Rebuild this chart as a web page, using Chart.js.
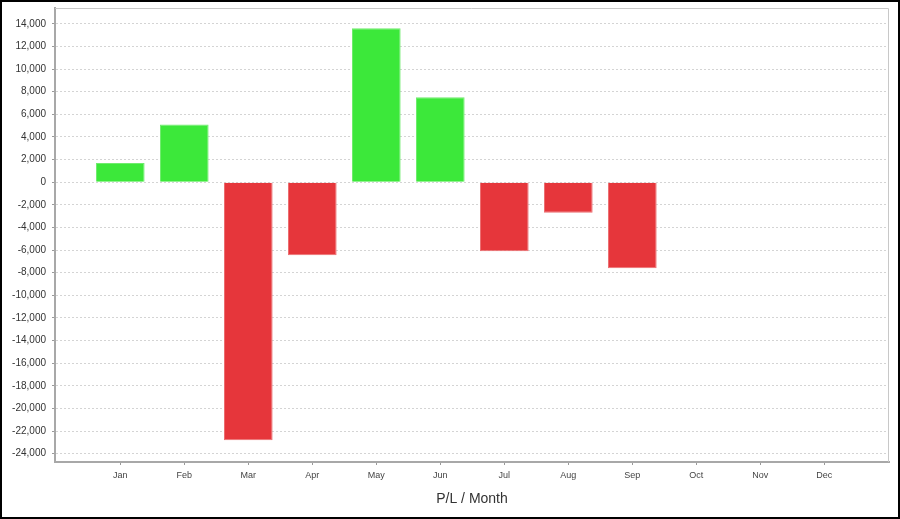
<!DOCTYPE html>
<html>
<head>
    <title>P/L / Month</title>
    <script src="https://cdn.jsdelivr.net/npm/chart.js@4.4.0/dist/chart.umd.min.js"></script>
    <style>
        body { margin: 0; background: #fff; }
        .frame { width: 900px; height: 519px; border: 2px solid #000; box-sizing: border-box; }
        canvas { display: block; }
    </style>
</head>
<body>
    <div class="frame">
        <canvas id="plChart" width="896" height="515"></canvas>
    </div>

    <script>
        // monthly profit / loss
        const months = ['Jan', 'Feb', 'Mar', 'Apr', 'May', 'Jun', 'Jul', 'Aug', 'Sep', 'Oct', 'Nov', 'Dec'];
        const pl = [1700, 5100, -22800, -6450, 13600, 7500, -6100, -2700, -7600, null, null, null];
        const yTicks = [14000, 12000, 10000, 8000, 6000, 4000, 2000, 0, -2000, -4000, -6000, -8000,
                        -10000, -12000, -14000, -16000, -18000, -20000, -22000, -24000];

        const green = '#3ce83a';
        const red = '#e6363b';
        const font = "'Liberation Sans', Arial, sans-serif";

        // light frame on top/right of the plot
        const plotFrame = {
            id: 'plotFrame',
            afterDraw(chart) {
                const a = chart.chartArea;
                const ctx = chart.ctx;
                ctx.save();
                ctx.strokeStyle = '#c8c8c8';
                ctx.lineWidth = 1;
                ctx.beginPath();
                ctx.moveTo(a.left, a.top + 0.5);
                ctx.lineTo(a.right - 0.5, a.top + 0.5);
                ctx.lineTo(a.right - 0.5, a.bottom);
                ctx.stroke();
                ctx.restore();
            }
        };

        new Chart(document.getElementById('plChart'), {
            type: 'bar',
            data: {
                datasets: [{
                    data: months.map((m, i) => ({ x: i, y: pl[i] })),
                    backgroundColor: pl.map(v => v >= 0 ? green : red),
                    borderColor: pl.map(v => v >= 0 ? '#6fec6d' : '#ec6f72'),
                    borderWidth: 1,
                    borderSkipped: 'start',
                    categoryPercentage: 0.76,
                    barPercentage: 1
                }]
            },
            options: {
                responsive: false,
                animation: false,
                layout: { padding: { top: 6, right: 9, left: 0, bottom: 0 } },
                plugins: {
                    legend: { display: false },
                    tooltip: { enabled: false }
                },
                scales: {
                    x: {
                        type: 'linear',
                        offset: false,
                        min: -1.02,
                        max: 12.01,
                        afterBuildTicks: s => { s.ticks = months.map((m, i) => ({ value: i })); },
                        afterFit: s => { s.height = 55; s.paddingLeft = 0; s.paddingRight = 0; },
                        ticks: {
                            autoSkip: false,
                            maxRotation: 0,
                            padding: 5,
                            color: '#444',
                            font: { family: font, size: 9 },
                            callback: v => months[v]
                        },
                        grid: { offset: false, drawOnChartArea: false, tickLength: 3, tickColor: '#999' },
                        border: { color: '#a8a8a8', width: 2 },
                        title: {
                            display: true,
                            text: 'P/L / Month',
                            color: '#333',
                            font: { family: font, size: 14 },
                            padding: { top: 0, bottom: 9 }
                        }
                    },
                    y: {
                        min: -24730,
                        max: 15400,
                        afterBuildTicks: s => { s.ticks = yTicks.map(v => ({ value: v })); },
                        afterFit: s => { s.width = 53; s.paddingTop = 0; s.paddingBottom = 0; },
                        ticks: {
                            padding: 6,
                            color: '#333',
                            font: { family: font, size: 10 },
                            callback: v => v.toLocaleString('en-US')
                        },
                        grid: { color: '#d4d4d4', tickLength: 3, tickColor: '#999', tickBorderDash: [] },
                        border: { color: '#a8a8a8', width: 2, dash: [2, 2] }
                    }
                }
            },
            plugins: [plotFrame]
        });
    </script>
</body>
</html>
